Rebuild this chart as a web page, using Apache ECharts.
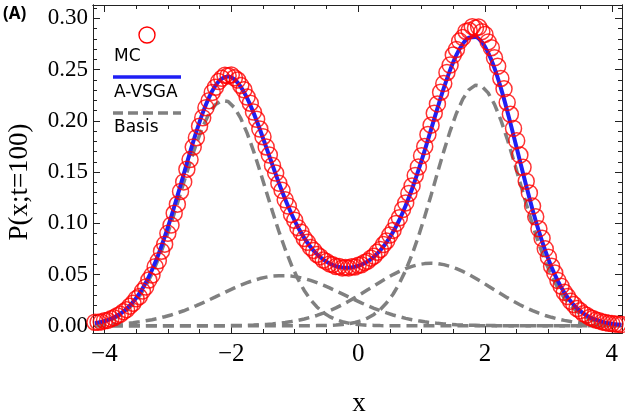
<!DOCTYPE html>
<html>
<head>
<meta charset="utf-8">
<script src="https://cdn.jsdelivr.net/npm/echarts@6/dist/echarts.min.js"></script>
<style>
  html, body { margin: 0; padding: 0; background: #fff; }
  #chart { width: 625px; height: 417px; }
</style>
</head>
<body>
<div id="chart"></div>
<script>
// MC histogram points (step 0.05)
const xFine = [-4.15,-4.1,-4.05,-4,-3.95,-3.9,-3.85,-3.8,-3.75,-3.7,-3.65,-3.6,-3.55,-3.5,-3.45,-3.4,-3.35,-3.3,-3.25,-3.2,
  -3.15,-3.1,-3.05,-3,-2.95,-2.9,-2.85,-2.8,-2.75,-2.7,-2.65,-2.6,-2.55,-2.5,-2.45,-2.4,-2.35,-2.3,-2.25,-2.2,
  -2.15,-2.1,-2.05,-2,-1.95,-1.9,-1.85,-1.8,-1.75,-1.7,-1.65,-1.6,-1.55,-1.5,-1.45,-1.4,-1.35,-1.3,-1.25,-1.2,
  -1.15,-1.1,-1.05,-1,-0.95,-0.9,-0.85,-0.8,-0.75,-0.7,-0.65,-0.6,-0.55,-0.5,-0.45,-0.4,-0.35,-0.3,-0.25,-0.2,
  -0.15,-0.1,-0.05,0,0.05,0.1,0.15,0.2,0.25,0.3,0.35,0.4,0.45,0.5,0.55,0.6,0.65,0.7,0.75,0.8,
  0.85,0.9,0.95,1,1.05,1.1,1.15,1.2,1.25,1.3,1.35,1.4,1.45,1.5,1.55,1.6,1.65,1.7,1.75,1.8,
  1.85,1.9,1.95,2,2.05,2.1,2.15,2.2,2.25,2.3,2.35,2.4,2.45,2.5,2.55,2.6,2.65,2.7,2.75,2.8,
  2.85,2.9,2.95,3,3.05,3.1,3.15,3.2,3.25,3.3,3.35,3.4,3.45,3.5,3.55,3.6,3.65,3.7,3.75,3.8,
  3.85,3.9,3.95,4,4.05,4.1,4.15];
const mcY = [0.0035,0.0036,0.0038,0.0050,0.0053,0.0068,0.0078,0.0099,0.0112,0.0138,0.0158,0.0192,0.0220,0.0263,0.0285,0.0339,0.0378,0.0447,0.0495,0.0577,
  0.0634,0.0728,0.0797,0.0902,0.0983,0.1098,0.1187,0.1311,0.1404,0.1528,0.1622,0.1744,0.1835,0.1948,0.2030,0.2128,0.2197,0.2277,0.2327,0.2383,
  0.2415,0.2445,0.2440,0.2448,0.2420,0.2398,0.2345,0.2303,0.2232,0.2172,0.2085,0.2015,0.1920,0.1845,0.1745,0.1667,0.1565,0.1490,0.1392,0.1322,
  0.1230,0.1168,0.1085,0.1030,0.0958,0.0913,0.0852,0.0815,0.0765,0.0736,0.0696,0.0675,0.0642,0.0627,0.0604,0.0597,0.0578,0.0579,0.0565,0.0570,
  0.0565,0.0576,0.0574,0.0590,0.0596,0.0618,0.0631,0.0660,0.0680,0.0718,0.0745,0.0793,0.0828,0.0886,0.0931,0.0999,0.1054,0.1134,0.1199,0.1291,
  0.1365,0.1467,0.1550,0.1660,0.1749,0.1866,0.1958,0.2074,0.2165,0.2279,0.2363,0.2472,0.2544,0.2642,0.2696,0.2778,0.2812,0.2872,0.2881,0.2919,
  0.2905,0.2915,0.2870,0.2843,0.2770,0.2713,0.2615,0.2532,0.2413,0.2312,0.2179,0.2064,0.1926,0.1806,0.1666,0.1547,0.1411,0.1297,0.1168,0.1064,
  0.0947,0.0854,0.0751,0.0670,0.0581,0.0515,0.0441,0.0387,0.0327,0.0286,0.0239,0.0208,0.0169,0.0148,0.0119,0.0104,0.0082,0.0072,0.0056,0.0049,
  0.0038,0.0033,0.0025,0.0022,0.0017,0.0015,0.0012];

// A-VSGA curve and the Gaussian basis functions (step 0.1)
const xB = [-4.15,-4.05,-3.95,-3.85,-3.75,-3.65,-3.55,-3.45,-3.35,-3.25,
  -3.15,-3.05,-2.95,-2.85,-2.75,-2.65,-2.55,-2.45,-2.35,-2.25,
  -2.15,-2.05,-1.95,-1.85,-1.75,-1.65,-1.55,-1.45,-1.35,-1.25,
  -1.15,-1.05,-0.95,-0.85,-0.75,-0.65,-0.55,-0.45,-0.35,-0.25,
  -0.15,-0.05,0.05,0.15,0.25,0.35,0.45,0.55,0.65,0.75,
  0.85,0.95,1.05,1.15,1.25,1.35,1.45,1.55,1.65,1.75,
  1.85,1.95,2.05,2.15,2.25,2.35,2.45,2.55,2.65,2.75,
  2.85,2.95,3.05,3.15,3.25,3.35,3.45,3.55,3.65,3.75,
  3.85,3.95,4.05,4.15];
const vsgaY = [0.0025,0.0038,0.0056,0.0082,0.0118,0.0167,0.0232,0.0315,0.0418,0.0545,
  0.0694,0.0867,0.1058,0.1265,0.1479,0.1692,0.1895,0.2078,0.2229,0.2343,
  0.2411,0.2432,0.2404,0.2332,0.2222,0.2080,0.1918,0.1744,0.1567,0.1395,
  0.1235,0.1091,0.0964,0.0858,0.0770,0.0700,0.0647,0.0608,0.0582,0.0569,
  0.0567,0.0576,0.0596,0.0629,0.0675,0.0737,0.0816,0.0915,0.1034,0.1174,
  0.1335,0.1516,0.1711,0.1916,0.2121,0.2318,0.2495,0.2643,0.2751,0.2811,
  0.2817,0.2768,0.2665,0.2514,0.2321,0.2099,0.1858,0.1610,0.1366,0.1133,
  0.0921,0.0733,0.0571,0.0436,0.0325,0.0239,0.0171,0.0121,0.0084,0.0057,
  0.0038,0.0025,0.0016,0.0011];
const basis1 = [0.0019,0.0031,0.0047,0.0071,0.0104,0.0150,0.0210,0.0289,0.0387,0.0508,
  0.0651,0.0815,0.0998,0.1193,0.1395,0.1594,0.1779,0.1942,0.2070,0.2158,
  0.2198,0.2188,0.2128,0.2023,0.1880,0.1707,0.1515,0.1314,0.1114,0.0923,
  0.0747,0.0591,0.0457,0.0345,0.0255,0.0184,0.0130,0.0090,0.0060,0.0040,
  0.0026,0.0016,0.0010,0.0006,0.0004,0.0002,0.0001,0.0001,0,0,
  0,0,0,0,0,0,0,0,0,0,
  0,0,0,0,0,0,0,0,0,0,
  0,0,0,0,0,0,0,0,0,0,
  0,0,0,0];
const basis2 = [0.0006,0.0008,0.0011,0.0015,0.0019,0.0024,0.0031,0.0039,0.0049,0.0060,
  0.0073,0.0089,0.0106,0.0126,0.0147,0.0171,0.0197,0.0224,0.0253,0.0282,
  0.0312,0.0341,0.0370,0.0397,0.0421,0.0443,0.0461,0.0475,0.0485,0.0489,
  0.0489,0.0485,0.0475,0.0461,0.0443,0.0421,0.0397,0.0370,0.0341,0.0312,
  0.0282,0.0253,0.0224,0.0197,0.0171,0.0147,0.0126,0.0106,0.0089,0.0073,
  0.0060,0.0049,0.0039,0.0031,0.0024,0.0019,0.0015,0.0011,0.0008,0.0006,
  0.0005,0.0003,0.0003,0.0002,0.0001,0.0001,0.0001,0.0001,0,0,
  0,0,0,0,0,0,0,0,0,0,
  0,0,0,0];
const basis3 = [0,0,0,0,0,0,0,0,0,0,
  0,0,0,0,0,0,0,0,0.0001,0.0001,
  0.0001,0.0002,0.0003,0.0004,0.0006,0.0008,0.0011,0.0014,0.0019,0.0025,
  0.0033,0.0042,0.0053,0.0067,0.0083,0.0101,0.0123,0.0148,0.0175,0.0206,
  0.0239,0.0275,0.0312,0.0351,0.0389,0.0428,0.0465,0.0500,0.0531,0.0558,
  0.0580,0.0597,0.0607,0.0610,0.0607,0.0597,0.0580,0.0558,0.0531,0.0500,
  0.0465,0.0428,0.0389,0.0351,0.0312,0.0275,0.0239,0.0206,0.0175,0.0148,
  0.0123,0.0101,0.0083,0.0067,0.0053,0.0042,0.0033,0.0025,0.0019,0.0014,
  0.0011,0.0008,0.0006,0.0004];
const basis4 = [0,0,0,0,0,0,0,0,0,0,
  0,0,0,0,0,0,0,0,0,0,
  0,0,0,0,0,0,0,0,0,0,
  0,0,0,0,0.0001,0.0002,0.0003,0.0005,0.0008,0.0013,
  0.0021,0.0033,0.0050,0.0076,0.0111,0.0160,0.0225,0.0308,0.0414,0.0542,
  0.0695,0.0871,0.1066,0.1275,0.1490,0.1702,0.1900,0.2074,0.2212,0.2305,
  0.2348,0.2337,0.2273,0.2161,0.2008,0.1824,0.1618,0.1404,0.1190,0.0986,
  0.0798,0.0631,0.0488,0.0369,0.0272,0.0197,0.0139,0.0096,0.0064,0.0042,
  0.0027,0.0017,0.0011,0.0006];

// ticks
const xMajor = [-4, -2, 0, 2, 4];
const xMinor = [-3.5, -3, -2.5, -1.5, -1, -0.5, 0.5, 1, 1.5, 2.5, 3, 3.5];
const yMajor = [0, 0.05, 0.1, 0.15, 0.2, 0.25, 0.3];
const yMinor = [0.01,0.02,0.03,0.04,0.06,0.07,0.08,0.09,0.11,0.12,0.13,0.14,0.16,0.17,0.18,0.19,
  0.21,0.22,0.23,0.24,0.26,0.27,0.28,0.29,0.31];

const X_MIN = -4.18, X_MAX = 4.16;
const Y_MIN = -0.007, Y_MAX = 0.313;
const FRAME = '#222';
const SERIF = '"Liberation Serif", "Times New Roman", serif';
const SANS = '"Noto Sans", "Open Sans", sans-serif';
const LEG = '"DejaVu Sans", "Noto Sans", sans-serif';

const chart = echarts.init(document.getElementById('chart'));

function xAx(pos, ticks, len, labels) {
  return {
    type: 'value', position: pos, min: X_MIN, max: X_MAX,
    axisLine: { show: true, onZero: false, lineStyle: { color: FRAME, width: 1 } },
    axisTick: { show: true, inside: true, length: len, customValues: ticks, lineStyle: { color: FRAME, width: 1 } },
    axisLabel: labels ? {
      show: true, customValues: xMajor, margin: 9,
      fontFamily: SERIF, fontSize: 25, color: '#000',
      formatter: (v) => (v < 0 ? '\u2212' + Math.abs(v) : String(v))
    } : { show: false },
    splitLine: { show: false }
  };
}
function yAx(pos, ticks, len, labels) {
  return {
    type: 'value', position: pos, min: Y_MIN, max: Y_MAX,
    axisLine: { show: true, onZero: false, lineStyle: { color: FRAME, width: 1 } },
    axisTick: { show: true, inside: true, length: len, customValues: ticks, lineStyle: { color: FRAME, width: 1 } },
    axisLabel: labels ? {
      show: true, customValues: yMajor, margin: 5,
      fontFamily: SERIF, fontSize: 23, color: '#000',
      formatter: (v) => v.toFixed(2)
    } : { show: false },
    splitLine: { show: false }
  };
}

const dashed = { color: '#808080', width: 3.5, type: [11, 6] };
function basisSeries(arr) {
  return {
    type: 'line', xAxisIndex: 0, yAxisIndex: 0, z: 1,
    data: xB.map((x, i) => [x, arr[i]]),
    showSymbol: false, lineStyle: dashed, silent: true
  };
}

chart.setOption({
  animation: false,
  grid: { left: 93, right: 3, top: 5, bottom: 84, containLabel: false },
  xAxis: [
    xAx('bottom', xMajor, 7, true),
    xAx('bottom', xMinor, 4, false),
    xAx('top', xMajor, 7, false),
    xAx('top', xMinor, 4, false)
  ],
  yAxis: [
    yAx('left', yMajor, 7, true),
    yAx('left', yMinor, 4, false),
    yAx('right', yMajor, 7, false),
    yAx('right', yMinor, 4, false)
  ],
  series: [
    basisSeries(basis1),
    basisSeries(basis2),
    basisSeries(basis3),
    basisSeries(basis4),
    {
      name: 'A-VSGA', type: 'line', z: 2,
      data: xB.map((x, i) => [x, vsgaY[i]]),
      showSymbol: false, smooth: 0.3,
      lineStyle: { color: '#1f1ff5', width: 4 }
    },
    {
      name: 'MC', type: 'scatter', z: 3,
      data: xFine.map((x, i) => [x, mcY[i]]),
      symbol: 'circle', symbolSize: 16,
      itemStyle: { color: 'rgba(0,0,0,0)', borderColor: '#ff0000', borderWidth: 1.5 }
    }
  ],
  graphic: [
    { type: 'text', left: 3, top: 6, style: { text: '(A)', font: 'bold 17px ' + SANS, fill: '#000' } },
    { type: 'circle', shape: { cx: 147, cy: 35, r: 8 }, style: { fill: 'none', stroke: '#ff0000', lineWidth: 1.4 } },
    { type: 'text', x: 114, y: 57, style: { text: 'MC', font: '17px ' + LEG, fill: '#000', textVerticalAlign: 'middle' } },
    { type: 'line', shape: { x1: 113, y1: 77, x2: 181, y2: 77 }, style: { stroke: '#1f1ff5', lineWidth: 3.5 } },
    { type: 'text', x: 114, y: 93, style: { text: 'A-VSGA', font: '17px ' + LEG, fill: '#000', textVerticalAlign: 'middle' } },
    { type: 'line', shape: { x1: 113, y1: 113, x2: 181, y2: 113 }, style: { stroke: '#808080', lineWidth: 3.5, lineDash: [10, 5] } },
    { type: 'text', x: 114, y: 128, style: { text: 'Basis', font: '17px ' + LEG, fill: '#000', textVerticalAlign: 'middle' } },
    { type: 'text', x: 20, y: 182, rotation: Math.PI / 2,
      style: { text: 'P(x;t=100)', font: '27px ' + SERIF, fill: '#000', textAlign: 'center', textVerticalAlign: 'middle' } },
    { type: 'text', x: 359, y: 404, style: { text: 'x', font: '27px ' + SERIF, fill: '#000', textAlign: 'center', textVerticalAlign: 'middle' } }
  ]
});
</script>
</body>
</html>
